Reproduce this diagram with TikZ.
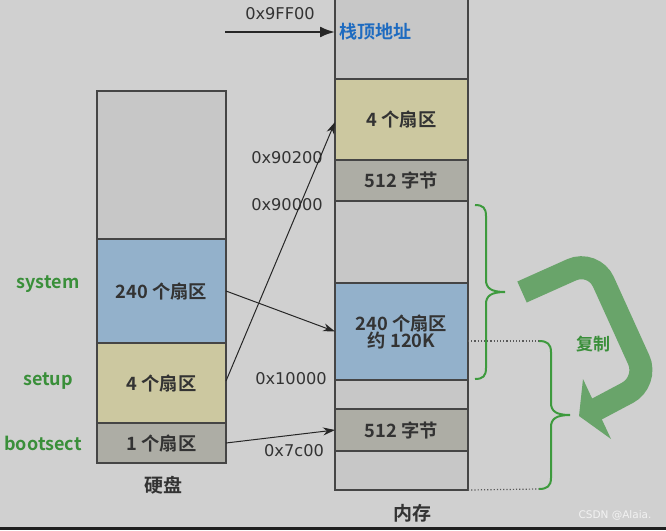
\documentclass[tikz,border=0pt]{standalone}
\usepackage{fontspec}
\setmainfont{DejaVu Sans}
\newfontfamily\cjk{Noto Sans CJK SC}[BoldFont={Noto Sans CJK SC Bold}]
\usetikzlibrary{arrows.meta}
\definecolor{bg}{HTML}{D0D0D0}
\definecolor{cellgray}{HTML}{C7C7C7}
\definecolor{cellblue}{HTML}{93B1CB}
\definecolor{cellyellow}{HTML}{CCC8A0}
\definecolor{celldark}{HTML}{ADADA5}
\definecolor{edge}{HTML}{454545}
\definecolor{txt}{HTML}{333333}
\definecolor{bracegreen}{HTML}{3D9A3D}
\definecolor{labelgreen}{HTML}{3A8F3A}
\definecolor{arrowgreen}{HTML}{69A46A}
\definecolor{topblue}{HTML}{1E6BC0}
\tikzset{
  cell/.style={draw=edge, line width=1.3pt, inner sep=0pt, outer sep=0pt, font=\cjk\bfseries\fontsize{18.3}{20}\selectfont, text=txt, align=center},
  mcell/.style={cell, minimum width=133pt},
  dcell/.style={cell, minimum width=129pt},
  hexlabel/.style={font=\fontsize{16.2}{18}\selectfont, text=txt, inner sep=0pt},
  sidelabel/.style={font=\cjk\bfseries\fontsize{18}{20}\selectfont, text=labelgreen, inner sep=0pt},
  caption/.style={font=\cjk\bfseries\fontsize{19}{21}\selectfont, text=txt, inner sep=0pt},
  copyarrow/.style={-{Stealth[length=12pt,width=8pt]}, line width=1pt, draw=black!85},
  stackarrow/.style={-{Latex[length=15pt,width=11pt]}, line width=2.2pt, draw=black!85},
  greenbrace/.style={draw=bracegreen, line width=2pt},
  dotline/.style={draw=black!65, line width=1.2pt, dotted},
}
\begin{document}
\begin{tikzpicture}[x=1pt,y=-1pt]
\fill[bg] (0,0) rectangle (666,530);
\useasboundingbox (0,0) rectangle (666,530);
\fill[black!88] (0,527) rectangle (666,530);

% memory column
\node[mcell, fill=cellgray, minimum height=81pt] (mtop) at (401.5,38.5) {};
\node[mcell, fill=cellyellow, minimum height=81pt] (m4) at (401.5,119.5) {4 个扇区};
\node[mcell, fill=celldark, minimum height=41pt] (m512a) at (401.5,180.5) {512 字节};
\node[mcell, fill=cellgray, minimum height=82pt] (mgap1) at (401.5,242) {};
\node[mcell, fill=cellblue, minimum height=97pt] (msys) at (401.5,331.5) {240 个扇区\\[-3pt]约 120K};
\node[mcell, fill=cellgray, minimum height=29pt] (mgap2) at (401.5,394.5) {};
\node[mcell, fill=celldark, minimum height=42pt] (m512b) at (401.5,430) {512 字节};
\node[mcell, fill=cellgray, minimum height=39pt] (mbot) at (401.5,470.5) {};
\node[caption] (memcap) at (412,513) {内存};

% disk column
\node[dcell, fill=cellgray, minimum height=148pt] (dtop) at (161.5,165) {};
\node[dcell, fill=cellblue, minimum height=104pt] (dsys) at (161.5,291) {240 个扇区};
\node[dcell, fill=cellyellow, minimum height=80pt] (dset) at (161.5,383) {4 个扇区};
\node[dcell, fill=celldark, minimum height=40pt] (dboot) at (161.5,443) {1 个扇区};
\node[caption] (diskcap) at (163,485) {硬盘};

% side labels
\node[sidelabel] (lsys) at (48,284) {system};
\node[sidelabel] (lset) at (48,381) {setup};
\node[sidelabel] (lboot) at (43,443) {bootsect};

% address labels
\node[hexlabel] (a9ff) at (280,14) {0x9FF00};
\node[hexlabel] (a902) at (287,158) {0x90200};
\node[hexlabel] (a900) at (287,205) {0x90000};
\node[hexlabel] (a100) at (291,379) {0x10000};
\node[hexlabel] (a7c0) at (294,451) {0x7c00};
\node[font=\cjk\bfseries\fontsize{18}{20}\selectfont, text=topblue, anchor=west, inner sep=0pt] (stk) at (339,32) {栈顶地址};

% arrows
\coordinate (stkfrom) at (225,32);
\draw[stackarrow] (stkfrom) -- (mtop.west |- stkfrom);
\draw[copyarrow] (dset.east |- 0,381) -- (m4.west |- 0,122);
\draw[copyarrow] (dsys.east) -- (msys.west);
\draw[copyarrow] (dboot.east) -- (m512b.west);

% dotted lines and braces
\coordinate (dot1a) at (msys.east |- 0,341);
\coordinate (dot1b) at (539,341);
\coordinate (dot2b) at (539,489);
\draw[dotline] (dot1a) -- (dot1b);
\draw[dotline] (mbot.south east) -- (dot2b);
\draw[greenbrace] (475,205) .. controls (483,205) and (486,208) .. (486,216) -- (486,280)
  .. controls (486,288) and (491,292) .. (505,292)
  .. controls (491,292) and (486,296) .. (486,304) -- (486,368)
  .. controls (486,376) and (483,379) .. (475,379);
\draw[greenbrace] (dot1b) .. controls (547,341) and (551,344) .. (551,352) -- (551,403)
  .. controls (551,411) and (556,415) .. (570,415)
  .. controls (556,415) and (551,419) .. (551,427) -- (551,478)
  .. controls (551,486) and (547,489) .. (dot2b);

% big copy arrow
\draw[arrowgreen, line width=23pt, rounded corners=24pt] (522,292) -- (593.5,260) -- (648.6,381.6) -- (596,409.5);
\fill[arrowgreen] (583,379) -- (611,439) -- (579,416) -- cycle;
\node[font=\cjk\bfseries\fontsize{17}{19}\selectfont, text=labelgreen, inner sep=0pt] (copylab) at (593,344) {复制};

% watermark
\node[font=\fontsize{10.5}{12}\selectfont, text=white!95!black, inner sep=0pt] (wm) at (615,515) {CSDN @Alaia.};
\end{tikzpicture}
\end{document}
